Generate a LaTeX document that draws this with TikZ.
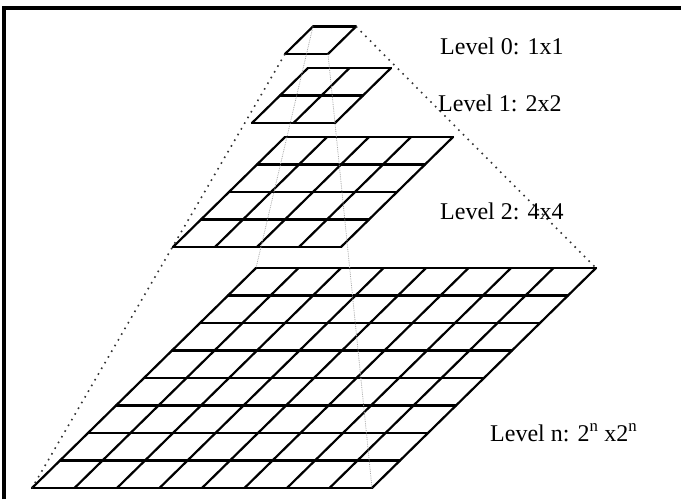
\documentclass[tikz,border=0pt]{standalone}
\usepackage{fontspec}
\setmainfont{Liberation Serif}

\begin{document}
\begin{tikzpicture}[
    x=1pt, y=-1pt,
    font=\fontsize{24}{26}\selectfont,
    cell/.style={line width=2.2pt, line cap=round},
    edge/.style={dash pattern=on 1.6pt off 5pt, line width=1.6pt, black!80},
    hidden/.style={densely dotted, line width=0.8pt, black!35},
    level/.style={anchor=base west, inner sep=0pt},
    frame/.style={line width=3.2pt}
]
    \useasboundingbox (0,0) rectangle (681,499);
    \draw[frame] (4,499) -- (4,8) -- (681,8);

    % one slanted grid per level: name / bottom-left / cells / cell width
    \foreach \lv/\bx/\by/\n/\w in {l0/285/54/1/43, l1/252/123/2/41.5, l2/173/247/4/42, ln/32/488/8/42.5} {
        \begin{scope}[shift={(\bx,\by)}, x={(\w pt,0pt)}, y={(28pt,27.5pt)}]
            \foreach \k in {0,...,\n} {
                \draw[cell] (\k,0) -- (\k,\n);
                \draw[cell] (0,\k) -- (\n,\k);
            }
            \coordinate (\lv-bl) at (0,0);
            \coordinate (\lv-br) at (\n,0);
            \coordinate (\lv-tl) at (0,\n);
            \coordinate (\lv-tr) at (\n,\n);
        \end{scope}
    }

    \draw[edge] (l0-bl) -- (ln-bl);
    \draw[edge] (l0-tr) -- (ln-tr);
    \draw[hidden] (l0-tl) -- (ln-tl);
    \draw[hidden] (l0-br) -- (ln-br);

    \node[level] (lab0) at (440,54) {Level 0: 1x1};
    \node[level] (lab1) at (438,111) {Level 1: 2x2};
    \node[level] (lab2) at (440,219) {Level 2: 4x4};
    \node[level] (labn) at (490,441) {Level n: 2\textsuperscript{n} x2\textsuperscript{n}};
\end{tikzpicture}
\end{document}
